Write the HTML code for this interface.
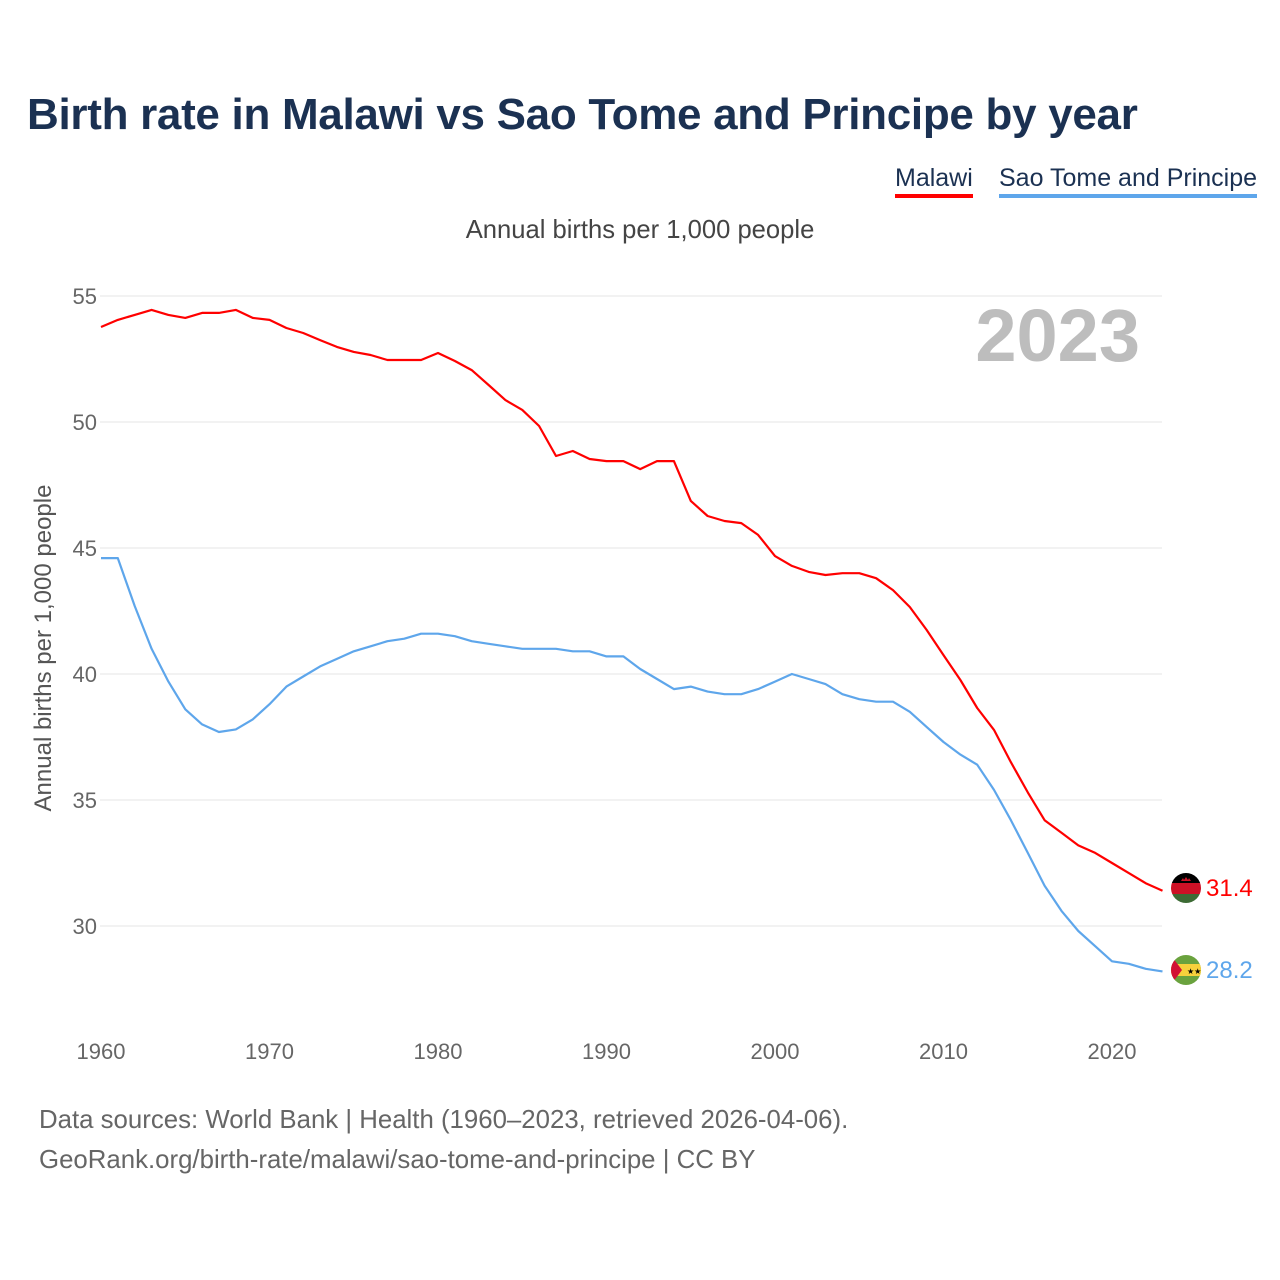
<!DOCTYPE html>
<html><head><meta charset="utf-8">
<style>
html,body{margin:0;padding:0;background:#fff;}
body{width:1280px;height:1280px;position:relative;overflow:hidden;font-family:"Liberation Sans",sans-serif;}
.t{position:absolute;white-space:nowrap;}
</style></head>
<body>
<div class="t" style="left:27px;top:90px;font-size:44px;font-weight:bold;color:#1b3152;letter-spacing:-0.3px;">Birth rate in Malawi vs Sao Tome and Principe by year</div>
<div class="t" style="left:895px;top:164px;font-size:25px;color:#1b3152;">Malawi<div style="height:4px;background:#ff0000;margin-top:1px;"></div></div>
<div class="t" style="left:999px;top:164px;font-size:25px;color:#1b3152;">Sao Tome and Principe<div style="height:4px;background:#5ea6eb;margin-top:1px;"></div></div>
<div class="t" style="left:0;width:1280px;text-align:center;top:216px;font-size:25.6px;color:#444;">Annual births per 1,000 people</div>
<div class="t" style="left:39px;top:1106px;font-size:25.8px;color:#666;">Data sources: World Bank | Health (1960–2023, retrieved 2026-04-06).</div>
<div class="t" style="left:39px;top:1146px;font-size:25.8px;color:#666;">GeoRank.org/birth-rate/malawi/sao-tome-and-principe | CC BY</div>
<svg id="chart" width="1280" height="1280" style="position:absolute;left:0;top:0;" xmlns="http://www.w3.org/2000/svg">
<defs>
<clipPath id="c1"><circle cx="1186" cy="888" r="15"/></clipPath>
<clipPath id="c2"><circle cx="1186" cy="970" r="15"/></clipPath>
</defs>
<text x="1140" y="361" text-anchor="end" font-size="74" font-weight="bold" fill="#bdbdbd" font-family="Liberation Sans, sans-serif">2023</text>
<text transform="translate(51,648) rotate(-90)" text-anchor="middle" font-size="24" fill="#555" font-family="Liberation Sans, sans-serif">Annual births per 1,000 people</text>
<g id="grid"></g><g id="lines"></g>
<g clip-path="url(#c1)">
<rect x="1170" y="872" width="32" height="11" fill="#000"/><rect x="1170" y="883" width="32" height="11" fill="#ce1126"/><rect x="1170" y="894" width="32" height="11" fill="#3d6b35"/>
<path d="M1181 881 l2-3 l1 2 l2-3 l2 3 l1-2 l2 3z" fill="#ce1126"/></g>
<g clip-path="url(#c2)">
<rect x="1170" y="954" width="32" height="32" fill="#6aa23e"/><rect x="1170" y="964" width="32" height="12" fill="#f7d13c"/>
<path d="M1170 954 L1182 970 L1170 986Z" fill="#d21034"/>
<text x="1187" y="974" font-size="8" fill="#000">★★</text></g>
<text x="1206" y="896" font-size="24" fill="#ff0000" font-family="Liberation Sans, sans-serif">31.4</text>
<text x="1206" y="978" font-size="24" fill="#5ea6eb" font-family="Liberation Sans, sans-serif">28.2</text>
</svg>
<script>
const years=[];for(let y=1960;y<=2023;y++)years.push(y);
const malawi=[53.77,54.05,54.25,54.45,54.25,54.13,54.33,54.33,54.45,54.13,54.05,53.73,53.53,53.25,52.98,52.78,52.66,52.46,52.46,52.46,52.74,52.42,52.06,51.47,50.87,50.48,49.84,48.65,48.85,48.53,48.45,48.45,48.13,48.45,48.45,46.87,46.27,46.07,45.99,45.52,44.68,44.29,44.05,43.93,44.0,44.0,43.8,43.33,42.66,41.75,40.75,39.76,38.65,37.78,36.5,35.3,34.2,33.7,33.2,32.9,32.5,32.1,31.7,31.4];
const saoTome=[44.6,44.6,42.7,41.0,39.7,38.6,38.0,37.7,37.8,38.2,38.8,39.5,39.9,40.3,40.6,40.9,41.1,41.3,41.4,41.6,41.6,41.5,41.3,41.2,41.1,41.0,41.0,41.0,40.9,40.9,40.7,40.7,40.2,39.8,39.4,39.5,39.3,39.2,39.2,39.4,39.7,40.0,39.8,39.6,39.2,39.0,38.9,38.9,38.5,37.9,37.3,36.8,36.4,35.4,34.2,32.9,31.6,30.6,29.8,29.2,28.6,28.5,28.3,28.2];
const yTicks=[30,35,40,45,50,55];
const xTicks=[1960,1970,1980,1990,2000,2010,2020];
const NS='http://www.w3.org/2000/svg';
const xS=v=>101+(v-1960)*(1112-101)/60;
const yS=v=>926-(v-30)*25.2;
function mk(tag,attrs,parent,text){const e=document.createElementNS(NS,tag);for(const k in attrs)e.setAttribute(k,attrs[k]);if(text!==undefined)e.textContent=text;parent.appendChild(e);return e;}
const grid=document.getElementById('grid');
yTicks.forEach(t=>{
  const l=mk('line',{x1:100,x2:1162,y1:yS(t),y2:yS(t),stroke:'#e6e6e6','stroke-width':1},grid);
  
  
  const tx=mk('text',{x:97,y:yS(t)+8,'text-anchor':'end','font-size':22,fill:'#666','font-family':'Liberation Sans, sans-serif'},grid,String(t));
  
  
});
xTicks.forEach(t=>{
  const tx=mk('text',{x:xS(t),y:1059,'text-anchor':'middle','font-size':22,fill:'#666','font-family':'Liberation Sans, sans-serif'},grid,String(t));
  
  
});
const lines=document.getElementById('lines');
function draw(vals,color,name){
  const d=vals.map((v,i)=>(i?'L':'M')+xS(years[i]).toFixed(1)+' '+yS(v).toFixed(1)).join(' ');
  const p=mk('path',{d:d,fill:'none',stroke:color,'stroke-width':2.2,'stroke-linejoin':'round'},lines);
  
  
}
draw(saoTome,'#5ea6eb','sao-tome-line');
draw(malawi,'#ff0000','malawi-line');
</script>
</body></html>
